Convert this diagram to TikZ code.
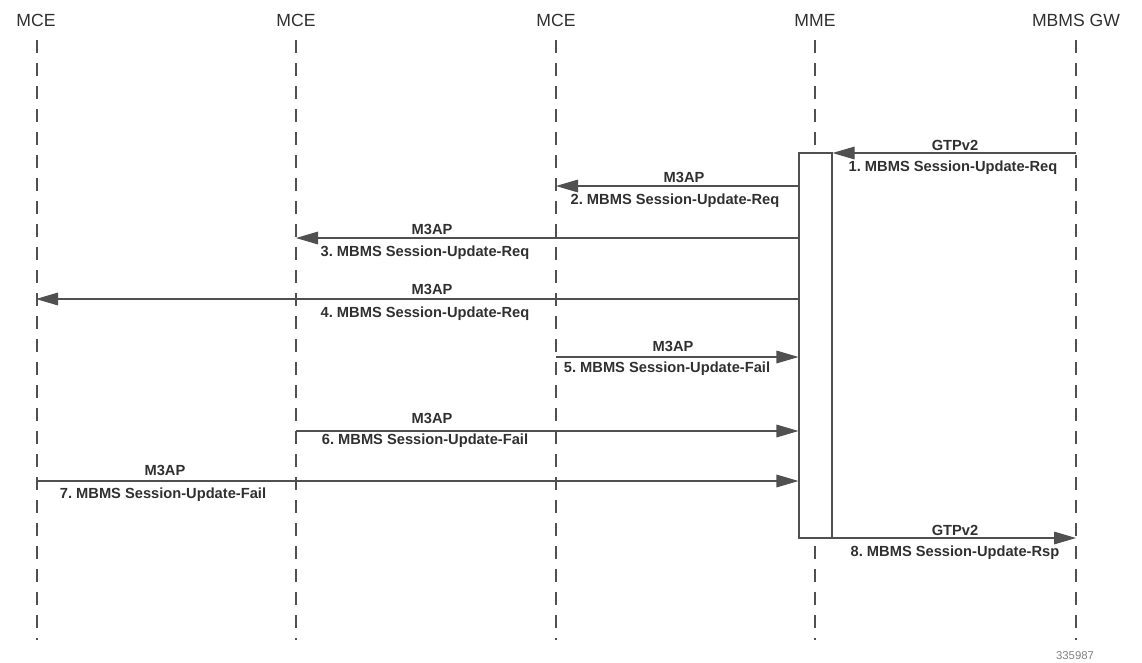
\documentclass[tikz,border=0pt]{standalone}
\usepackage{fontspec}
\setmainfont{Liberation Sans}
\usetikzlibrary{arrows.meta, positioning}
\frenchspacing

\definecolor{linegray}{HTML}{505050}
\definecolor{textgray}{HTML}{303030}

\begin{document}
\begin{tikzpicture}[
x=0.75pt, y=-0.75pt,
every node/.style={text=textgray},
entity/.style={
    font=\fontsize{13.2}{15}\selectfont
},
lifeline/.style={
    draw=linegray,
    line width=0.8pt,
    dash pattern=on 9.75pt off 7.5pt
},
activation/.style={
    rectangle,
    draw=linegray,
    line width=0.8pt,
    fill=white,
    minimum width=24.75pt,
    minimum height=288.75pt,
    inner sep=0pt
},
msg/.style={
    -{Triangle[length=16.5pt, width=9.5pt]},
    draw=linegray,
    line width=0.8pt
},
proto/.style={
    font=\bfseries\fontsize{11}{13}\selectfont
}
]

\useasboundingbox (0,0) rectangle (1142,662);

% lifeline heads
\node (mceA) [entity] at (36,20) {MCE};
\node (mceB) [entity] at (296,20) {MCE};
\node (mceC) [entity] at (556,20) {MCE};
\node (mme) [entity] at (815,20) {MME};
\node (gw) [entity] at (1076,20) {MBMS GW};

% lifelines
\coordinate (mceAend) at (37,640);
\coordinate (mceBend) at (296,640);
\coordinate (mceCend) at (556,640);
\coordinate (mmeend) at (815,640);
\coordinate (gwend) at (1076,640);
\draw [lifeline] (37,40) -- (mceAend);
\draw [lifeline] (296,40) -- (mceBend);
\draw [lifeline] (556,40) -- (mceCend);
\draw [lifeline] (815,40) -- (mmeend);
\draw [lifeline] (1076,40) -- (gwend);

% MME activation
\node (mmebox) [activation] at (815.5,345.5) {};

% 1
\draw [msg] (gw |- 0,153) -- (mmebox.east |- 0,153);
\node (p1) [proto] at (955,145) {GTPv2};
\node (m1) [proto] at (953,168) {1. MBMS Session-Update-Req};

% 2
\draw [msg] (mmebox.west |- 0,186) -- (mceC |- 0,186);
\node (p2) [proto] at (684,177) {M3AP};
\node (m2) [proto] at (675,201) {2. MBMS Session-Update-Req};

% 3
\draw [msg] (mmebox.west |- 0,238) -- (mceB |- 0,238);
\node (p3) [proto] at (432,229) {M3AP};
\node (m3) [proto] at (425,253) {3. MBMS Session-Update-Req};

% 4
\draw [msg] (mmebox.west |- 0,299) -- (mceA |- 0,299);
\node (p4) [proto] at (432,289) {M3AP};
\node (m4) [proto] at (425,314) {4. MBMS Session-Update-Req};

% 5
\draw [msg] (mceC |- 0,357) -- (mmebox.west |- 0,357);
\node (p5) [proto] at (673,346) {M3AP};
\node (m5) [proto] at (667,369) {5. MBMS Session-Update-Fail};

% 6
\draw [msg] (mceB |- 0,431) -- (mmebox.west |- 0,431);
\node (p6) [proto] at (432,418) {M3AP};
\node (m6) [proto] at (425,441) {6. MBMS Session-Update-Fail};

% 7
\draw [msg] (mceA |- 0,481) -- (mmebox.west |- 0,481);
\node (p7) [proto] at (165,470) {M3AP};
\node (m7) [proto] at (163,495) {7. MBMS Session-Update-Fail};

% 8
\draw [msg] (mmebox.east |- 0,538) -- (gw |- 0,538);
\node (p8) [proto] at (955,530) {GTPv2};
\node (m8) [proto] at (955,553) {8. MBMS Session-Update-Rsp};

% figure number
\node (fignum) [font=\fontsize{8.5}{10}\selectfont, text=gray] at (1075,656) {335987};

\end{tikzpicture}
\end{document}
